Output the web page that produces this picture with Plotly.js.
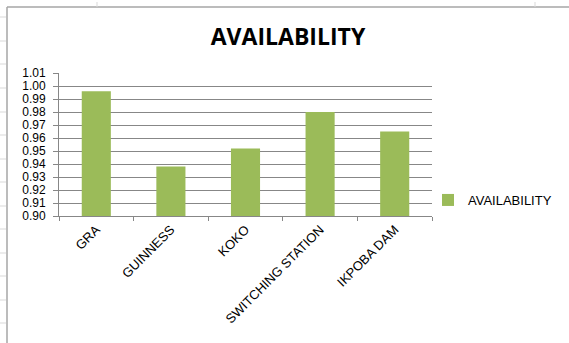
<!DOCTYPE html>
<html>
<head>
<meta charset="utf-8">
<script src="https://cdn.plot.ly/plotly-3.0.1.min.js"></script>
<style>
  html, body { margin: 0; padding: 0; background: #ffffff; }
  #chart { width: 569px; height: 343px; }
</style>
</head>
<body>
<div id="chart"></div>
<script>
// Availability per site
const sites = ['GRA', 'GUINNESS', 'KOKO', 'SWITCHING STATION', 'IKPOBA DAM'];
const availability = [0.996, 0.938, 0.952, 0.980, 0.965];
const seriesName = 'AVAILABILITY';
const yTicks = [0.90, 0.91, 0.92, 0.93, 0.94, 0.95, 0.96, 0.97, 0.98, 0.99, 1.00, 1.01];

const W = 569, H = 343;
const M = { l: 59, r: 137, t: 73, b: 127 };
const pw = W - M.l - M.r, ph = H - M.t - M.b;
// pixel -> paper helpers for the surrounding sheet decoration
const px = x => (x - M.l) / pw;
const py = y => (H - M.b - y) / ph;

const grey = '#a6a6a6';
const shapes = [
  // chart frame (left and top edges)
  { type: 'line', xref: 'paper', yref: 'paper', x0: px(7), x1: px(7), y0: py(7), y1: py(H + 5),
    line: { color: grey, width: 1.5 } },
  { type: 'line', xref: 'paper', yref: 'paper', x0: px(7), x1: px(W + 5), y0: py(7), y1: py(7),
    line: { color: grey, width: 1.5 } }
];
// sheet row / column marks peeking out around the frame
[17, 41, 64, 88, 112, 135, 159, 182, 206, 229, 253, 276, 300, 323].forEach(y => {
  shapes.push({ type: 'line', xref: 'paper', yref: 'paper', x0: px(0), x1: px(6), y0: py(y), y1: py(y),
    line: { color: '#d9d9d9', width: 1 } });
});
[97, 535].forEach(x => {
  shapes.push({ type: 'line', xref: 'paper', yref: 'paper', x0: px(x), x1: px(x), y0: py(2), y1: py(7),
    line: { color: '#d9d9d9', width: 1 } });
});

const data = [{
  type: 'bar',
  x: sites,
  y: availability,
  name: seriesName,
  marker: { color: '#9bbb59', line: { width: 0 } },
  showlegend: true
}];

const layout = {
  width: W, height: H,
  margin: M,
  paper_bgcolor: '#ffffff',
  plot_bgcolor: '#ffffff',
  font: { family: 'Liberation Sans, Arial, sans-serif', color: '#000000', size: 13 },
  title: {
    text: '<b>AVAILABILITY</b>',
    font: { family: 'Open Sans, sans-serif', size: 23, color: '#000000' },
    x: 288 / W, xanchor: 'center',
    y: 1 - 37 / H, yanchor: 'middle'
  },
  bargap: 0.61,
  xaxis: {
    type: 'category',
    tickangle: -45,
    tickson: 'boundaries',
    ticks: 'outside', ticklen: 4, tickcolor: '#878787',
    showline: true, linecolor: '#878787', linewidth: 1,
    showgrid: false,
    tickfont: { size: 13 },
    fixedrange: true
  },
  yaxis: {
    range: [0.90, 1.01],
    tickvals: yTicks,
    tickformat: '.2f',
    ticks: 'outside', ticklen: 5, tickcolor: '#878787',
    ticklabelstandoff: 5,
    showline: true, linecolor: '#878787', linewidth: 1,
    showgrid: true, gridcolor: '#878787', gridwidth: 1,
    zeroline: false,
    tickfont: { size: 12 },
    fixedrange: true
  },
  showlegend: true,
  legend: {
    x: px(428), xanchor: 'left',
    y: py(200), yanchor: 'middle',
    font: { size: 13 },
    bgcolor: 'rgba(0,0,0,0)',
    itemwidth: 30
  },
  shapes: shapes
};

Plotly.newPlot('chart', data, layout, { staticPlot: true, displayModeBar: false });
</script>
</body>
</html>
